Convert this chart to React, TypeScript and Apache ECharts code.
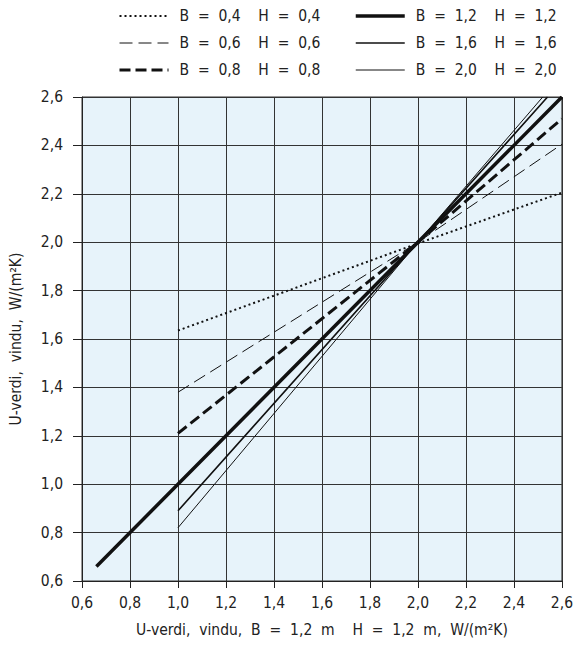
import React, { useEffect, useRef } from "react";
import * as echarts from "echarts";

// (x = U-value of window, y = U-value at other size)
const b04X = [1.0, 2.0, 2.6];
const b04Y = [1.635, 1.995, 2.205];
const b06X = [1.0, 2.0, 2.6];
const b06Y = [1.38, 2.0, 2.405];
const b08X = [1.0, 2.0, 2.6];
const b08Y = [1.21, 2.0, 2.51];
const b12X = [0.66, 2.0, 2.6];
const b12Y = [0.66, 2.0, 2.6];
const b16X = [1.0, 2.0, 2.54];
const b16Y = [0.89, 2.0, 2.6];
const b20X = [1.0, 2.0, 2.52];
const b20Y = [0.82, 2.0, 2.6];

const sp = "\u00a0";
const s2 = sp + sp;
const s4 = s2 + s2;
const lab = (b: string, h: string) => `B${s2}=${s2}${b}${s4}H${s2}=${s2}${h}`;
const names = [
  lab("0,4", "0,4"),
  lab("0,6", "0,6"),
  lab("0,8", "0,8"),
  lab("1,2", "1,2"),
  lab("1,6", "1,6"),
  lab("2,0", "2,0"),
];
const xTitle = `U-verdi,${s2}vindu,${s2}B${s2}=${s2}1,2${s2}m${s4}H${s2}=${s2}1,2${s2}m,${s2}W/(m²K)`;
const yTitle = `U-verdi,${s2}vindu,${s2}W/(m²K)`;

const FONT = "'DejaVu Sans Condensed', 'DejaVu Sans', sans-serif";
const fmt = (v: number) => v.toFixed(1).replace(".", ",");
const zip = (xs: number[], ys: number[]) => xs.map((x, i) => [x, ys[i]]);

export default function App() {
  const ref = useRef<HTMLDivElement>(null);
  useEffect(() => {
    if (!ref.current) return;
    const chart = echarts.init(ref.current, null, { renderer: "svg" });
    const mk = (name: string, xs: number[], ys: number[], width: number, type: any, z = 3) => ({
      type: "line",
      name,
      data: zip(xs, ys),
      symbol: "none",
      showSymbol: false,
      z,
      lineStyle: { color: "#111", width, type, cap: "butt" },
      itemStyle: { color: "#111" },
    });
    const legendCommon = {
      orient: "vertical",
      top: 3,
      itemWidth: 49,
      itemHeight: 14,
      itemGap: 11,
      itemStyle: { opacity: 0 },
      lineStyle: { width: "inherit", type: "inherit" },
      textStyle: { fontFamily: FONT, fontSize: 15.5, color: "#222", padding: [0, 0, 0, 6] },
      selectedMode: false,
    };
    chart.setOption({
      animation: false,
      backgroundColor: "#fff",
      textStyle: { fontFamily: FONT },
      legend: [
        { ...legendCommon, left: 113, data: names.slice(0, 3) },
        { ...legendCommon, left: 349, data: names.slice(3, 6) },
      ],
      grid: {
        left: 79,
        right: 14,
        top: 97,
        bottom: 65,
        show: true,
        backgroundColor: "#e7f3fa",
        borderColor: "#333",
        borderWidth: 1,
      },
      xAxis: {
        type: "value",
        min: 0.6,
        max: 2.6,
        interval: 0.2,
        name: xTitle,
        nameLocation: "middle",
        nameGap: 41,
        nameTextStyle: { fontFamily: FONT, fontSize: 15.5, color: "#222" },
        axisLine: { show: true, lineStyle: { color: "#222", width: 1 } },
        axisTick: { show: true, length: 7, lineStyle: { color: "#222" } },
        axisLabel: {
          fontFamily: FONT,
          fontSize: 15.5,
          color: "#222",
          margin: 14,
          formatter: (v: number) => fmt(v),
        },
        splitLine: { show: true, lineStyle: { color: "#333", width: 1 } },
      },
      yAxis: {
        type: "value",
        min: 0.6,
        max: 2.6,
        interval: 0.2,
        name: yTitle,
        nameLocation: "middle",
        nameGap: 58,
        nameTextStyle: { fontFamily: FONT, fontSize: 15.5, color: "#222" },
        axisLine: { show: true, lineStyle: { color: "#222", width: 1 } },
        axisTick: { show: true, length: 9, lineStyle: { color: "#222" } },
        axisLabel: {
          fontFamily: FONT,
          fontSize: 15.5,
          color: "#222",
          margin: 19,
          formatter: (v: number) => fmt(v),
        },
        splitLine: { show: true, lineStyle: { color: "#333", width: 1 } },
      },
      series: [
        mk(names[0], b04X, b04Y, 2, [2, 3]),
        mk(names[1], b06X, b06Y, 1, [13, 6]),
        mk(names[2], b08X, b08Y, 3, [11, 5]),
        mk(names[3], b12X, b12Y, 3.5, "solid", 5),
        mk(names[4], b16X, b16Y, 1.6, "solid"),
        mk(names[5], b20X, b20Y, 1, "solid"),
      ],
    });
    return () => chart.dispose();
  }, []);
  return (
    <div
      ref={ref}
      style={{ position: "absolute", left: 0, top: 0, width: 576, height: 646, overflow: "hidden" }}
    />
  );
}
